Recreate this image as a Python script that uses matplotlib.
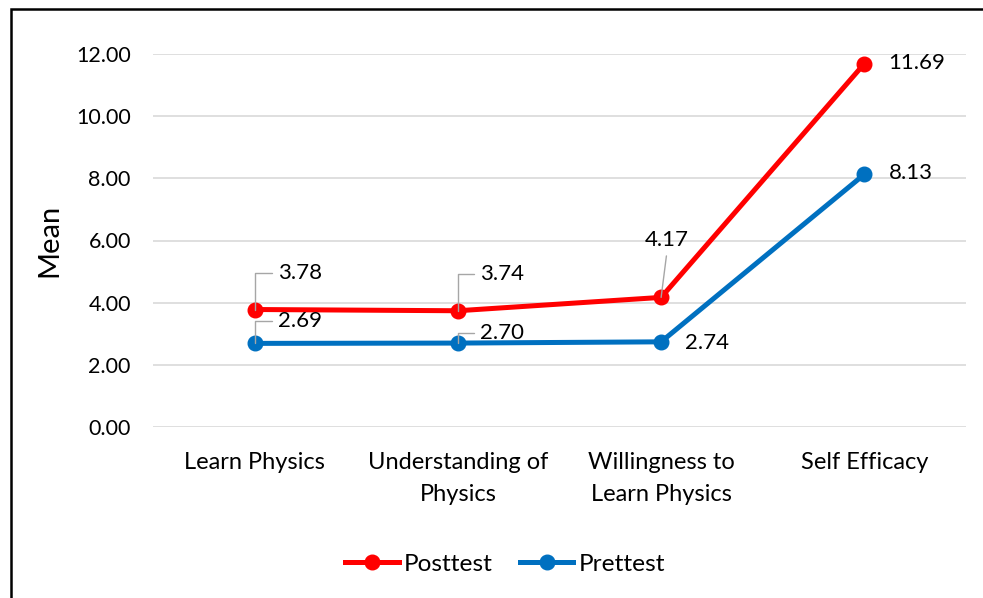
import matplotlib.pyplot as plt
from matplotlib.patches import Rectangle

plt.rcParams['font.family'] = ['Lato', 'DejaVu Sans']

categories = ["Learn Physics", "Understanding of\nPhysics", "Willingness to\nLearn Physics", "Self Efficacy"]
posttest = [3.78, 3.74, 4.17, 11.69]
prettest = [2.69, 2.70, 2.74, 8.13]
yticks = [0, 2, 4, 6, 8, 10, 12]

# label offsets in pixels (dx, dy) and leader style
post_offsets = [(23, 37, "elbow"), (22, 37, "elbow"), (6, 57, "straight"), (24, 1, None)]
pre_offsets = [(23, 22, "elbow"), (22, 10, "elbow"), (24, -1, None), (24, 1, None)]

fig = plt.figure(figsize=(9.83, 5.98), dpi=100)
ax = fig.add_axes([153 / 983, 1 - 427 / 598, 813 / 983, 373 / 598])

x = list(range(len(categories)))
ax.plot(x, posttest, color="#FF0000", lw=3.6, marker="o", ms=10.5, label="Posttest", zorder=3)
ax.plot(x, prettest, color="#0070C0", lw=3.6, marker="o", ms=10.5, label="Prettest", zorder=3)


def add_labels(vals, offsets):
    for xi, v, (dx, dy, leader) in zip(x, vals, offsets):
        props = None
        if leader == "elbow":
            props = dict(arrowstyle="-", color="#a6a6a6", lw=1.0, shrinkA=2, shrinkB=0,
                         relpos=(0, 0.5), connectionstyle="angle,angleA=0,angleB=90,rad=0")
        elif leader == "straight":
            props = dict(arrowstyle="-", color="#a6a6a6", lw=1.0, shrinkA=2, shrinkB=0,
                         relpos=(0.5, 0))
        ha = "center" if leader == "straight" else "left"
        ax.annotate(f"{v:.2f}", xy=(xi, v), xytext=(dx, dy), textcoords="offset pixels",
                    ha=ha, va="center", fontsize=16, arrowprops=props, zorder=4)


add_labels(posttest, post_offsets)
add_labels(prettest, pre_offsets)

ax.set_xlim(-0.5, 3.5)
ax.set_ylim(0, 12)
ax.set_yticks(yticks)
ax.set_yticklabels([f"{t:.2f}" for t in yticks], fontsize=15.5)
ax.set_xticks(x)
ax.set_xticklabels(categories, fontsize=17, linespacing=1.66, va="top")
ax.tick_params(length=0)
ax.tick_params(axis="x", pad=18)
ax.tick_params(axis="y", pad=16)
ax.grid(axis="y", color="#d9d9d9", lw=1.2)
ax.set_axisbelow(True)
for s in ax.spines.values():
    s.set_visible(False)
ax.set_ylabel("Mean", fontsize=21, labelpad=10)

ax.legend(loc="center", bbox_to_anchor=(505 / 983, 1 - 564 / 598), bbox_transform=fig.transFigure,
          ncol=2, frameon=False, fontsize=17.6, handlelength=2.2, columnspacing=1.1,
          handletextpad=0.2)

fig.patches.append(Rectangle((11 / 983, -0.1), 1.2, 1 - 9 / 598 + 0.1, transform=fig.transFigure,
                             fill=False, edgecolor="black", lw=1.8))

fig.savefig("out.png", dpi=100)
